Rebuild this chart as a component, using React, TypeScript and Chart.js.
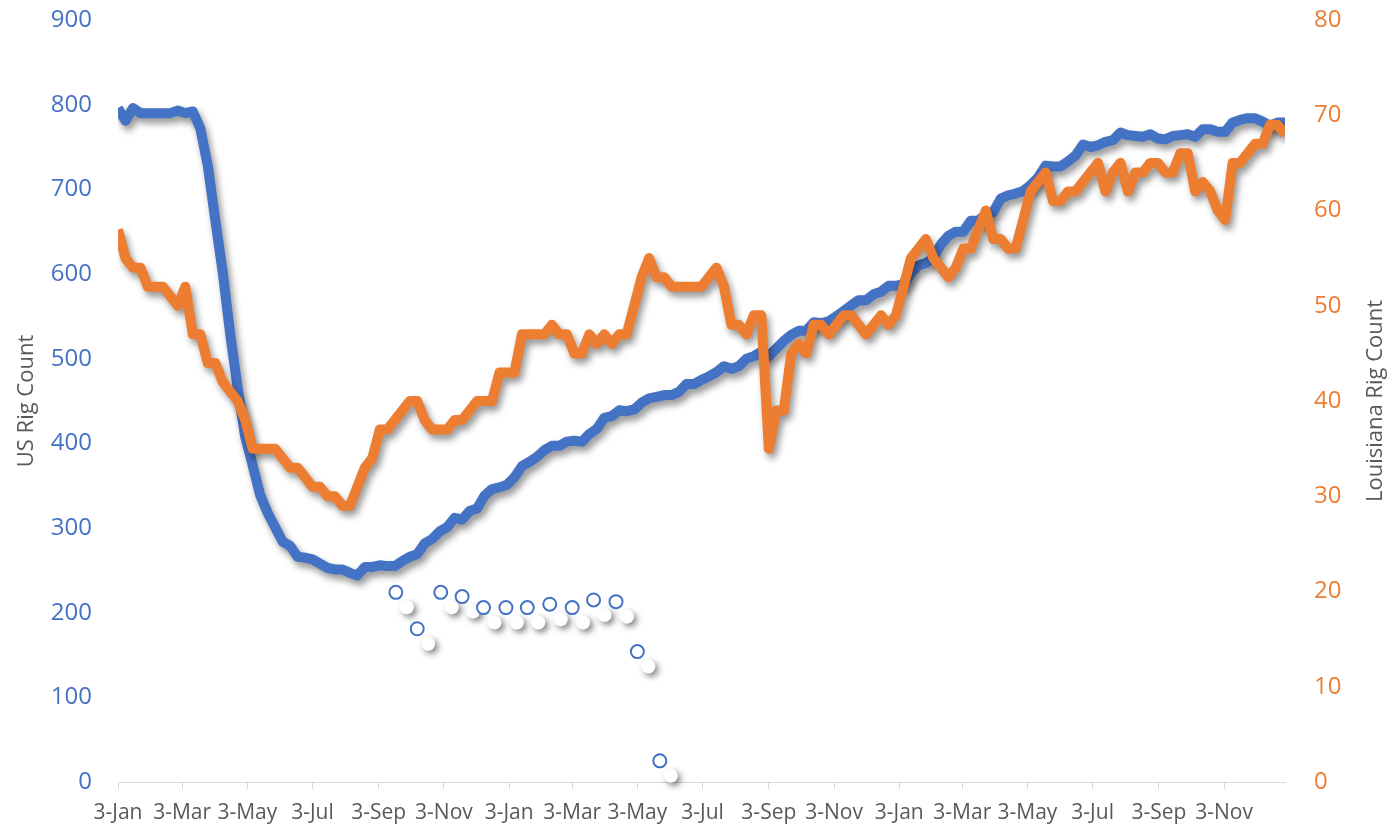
import React, { useEffect, useRef } from "react";
import { Chart, registerables } from "chart.js";

Chart.register(...registerables);

// Weekly series, first week = 2020-01-03
const START_DATE = "2020-01-03";

const usRigCount = [
  // 2020
  796, 781, 796, 790, 790, 790, 790, 790, 793, 790, 792, 772, 728, 664, 602, 529, 465,
  408, 374, 339, 318, 301, 284, 279, 266, 265, 263, 258, 253, 251, 251, 247, 244, 254,
  254, 256, 255, 255, 261, 266, 269, 282, 287, 296, 301, 312, 310, 320, 323, 338, 346, 348,
  // 2021
  351, 360, 373, 378, 384, 392, 397, 397, 402, 403, 402, 411, 417, 430, 432, 439, 438,
  440, 448, 453, 455, 457, 457, 461, 470, 470, 475, 479, 484, 491, 488, 491, 500, 503,
  508, 503, 512, 521, 528, 533, 533, 543, 542, 544, 550, 556, 563, 569, 569, 576, 579, 586, 586,
  // 2022
  588, 601, 610, 613, 619, 635, 645, 650, 650, 663, 663, 670, 673, 689, 693, 695, 698,
  705, 714, 728, 727, 727, 733, 740, 753, 750, 752, 756, 758, 767, 764, 763, 762, 765,
  760, 759, 763, 764, 765, 762, 771, 771, 768, 768, 779, 782, 784, 784, 780, 775, 779, 779,
];

const louisianaRigCount = [
  // 2020
  58, 55, 54, 54, 52, 52, 52, 51, 50, 52, 47, 47, 44, 44, 42, 41, 40, 38, 35, 35, 35,
  35, 34, 33, 33, 32, 31, 31, 30, 30, 29, 29, 31, 33, 34, 37, 37, 38, 39, 40, 40, 38,
  37, 37, 37, 38, 38, 39, 40, 40, 40, 43,
  // 2021
  43, 43, 47, 47, 47, 47, 48, 47, 47, 45, 45, 47, 46, 47, 46, 47, 47, 50, 53, 55, 53,
  53, 52, 52, 52, 52, 52, 53, 54, 52, 48, 48, 47, 49, 49, 35, 39, 39, 45, 46, 45, 48,
  48, 47, 48, 49, 49, 48, 47, 48, 49, 48, 49,
  // 2022
  52, 55, 56, 57, 55, 54, 53, 54, 56, 56, 58, 60, 57, 57, 56, 56, 59, 62, 63, 64, 61,
  61, 62, 62, 63, 64, 65, 62, 64, 65, 62, 64, 64, 65, 65, 64, 64, 66, 66, 62, 63, 62,
  60, 59, 65, 65, 66, 67, 67, 69, 69, 68,
];

const markerDates = [
  "2020-09-19", "2020-10-09", "2020-10-31", "2020-11-20", "2020-12-10", "2020-12-31",
  "2021-01-20", "2021-02-10", "2021-03-03", "2021-03-23", "2021-04-13", "2021-05-03",
  "2021-05-24",
];
const markerValues = [224, 181, 224, 219, 206, 206, 206, 210, 206, 215, 213, 154, 25];

const tickDates = [
  "2020-01-03", "2020-03-03", "2020-05-03", "2020-07-03", "2020-09-03", "2020-11-03",
  "2021-01-03", "2021-03-03", "2021-05-03", "2021-07-03", "2021-09-03", "2021-11-03",
  "2022-01-03", "2022-03-03", "2022-05-03", "2022-07-03", "2022-09-03", "2022-11-03",
];
const tickLabels = [
  "3-Jan", "3-Mar", "3-May", "3-Jul", "3-Sep", "3-Nov",
  "3-Jan", "3-Mar", "3-May", "3-Jul", "3-Sep", "3-Nov",
  "3-Jan", "3-Mar", "3-May", "3-Jul", "3-Sep", "3-Nov",
];

const leftTitle = "US Rig Count";
const rightTitle = "Louisiana Rig Count";

const BLUE = "#4472C4";
const ORANGE = "#ED7D31";
const GRAY_TEXT = "#595959";
const AXIS_GRAY = "#D9D9D9";
const FONT = '"Open Sans", "Noto Sans", sans-serif';

const DAY_MS = 86400000;
const dayOffset = (d: string) =>
  Math.round((Date.parse(d) - Date.parse(START_DATE)) / DAY_MS);

const tickDays = tickDates.map(dayOffset);
const lastDay = (usRigCount.length - 1) * 7;

const shadowPlugin = {
  id: "excelShadows",
  beforeDatasetDraw(chart: any, args: any) {
    const ds = chart.data.datasets[args.index];
    const ctx = chart.ctx;
    if (ds.label === "US" || ds.label === "Louisiana") {
      ctx.save();
      ctx.shadowColor = "rgba(0,0,0,0.42)";
      ctx.shadowBlur = 7;
      ctx.shadowOffsetX = 3;
      ctx.shadowOffsetY = 5;
    } else if (ds.label === "Markers") {
      ctx.save();
      ctx.shadowColor = "rgba(0,0,0,0.5)";
      ctx.shadowBlur = 6;
      ctx.shadowOffsetX = 3;
      ctx.shadowOffsetY = 3;
      ctx.fillStyle = "#ffffff";
      args.meta.data.forEach((pt: any) => {
        ctx.beginPath();
        ctx.arc(pt.x + 11, pt.y + 15, 7, 0, Math.PI * 2);
        ctx.fill();
      });
      ctx.restore();
    }
  },
  afterDatasetDraw(chart: any, args: any) {
    const ds = chart.data.datasets[args.index];
    if (ds.label === "US" || ds.label === "Louisiana") {
      chart.ctx.restore();
    }
  },
};

const titlePlugin = {
  id: "axisTitles",
  afterDraw(chart: any) {
    const ctx = chart.ctx;
    const { top, bottom } = chart.chartArea;
    const cy = (top + bottom) / 2;
    ctx.save();
    ctx.font = `22px ${FONT}`;
    ctx.fillStyle = GRAY_TEXT;
    ctx.textAlign = "center";
    ctx.textBaseline = "middle";
    ctx.save();
    ctx.translate(27, cy);
    ctx.rotate(-Math.PI / 2);
    ctx.fillText(leftTitle, 0, 0);
    ctx.restore();
    ctx.save();
    ctx.translate(chart.width - 23, cy);
    ctx.rotate(-Math.PI / 2);
    ctx.fillText(rightTitle, 0, 0);
    ctx.restore();
    ctx.restore();
  },
};

const fitVertical = (width: number) => (scale: any) => {
  scale.width = width;
  scale.paddingTop = 0;
  scale.paddingBottom = 0;
};

export default function App() {
  const canvasRef = useRef<HTMLCanvasElement | null>(null);

  useEffect(() => {
    const canvas = canvasRef.current;
    if (!canvas) return;

    const usData = usRigCount.map((v, i) => ({ x: i * 7, y: v }));
    const laData = louisianaRigCount.map((v, i) => ({ x: i * 7, y: v }));
    const markerData = markerDates.map((d, i) => ({ x: dayOffset(d), y: markerValues[i] }));

    const chart = new Chart(canvas, {
      type: "line",
      data: {
        datasets: [
          {
            label: "Louisiana",
            data: laData,
            yAxisID: "y1",
            borderColor: ORANGE,
            backgroundColor: ORANGE,
            borderWidth: 10,
            pointRadius: 0,
            tension: 0,
            borderJoinStyle: "round",
            borderCapStyle: "butt",
            order: 0,
          },
          {
            label: "US",
            data: usData,
            yAxisID: "y",
            borderColor: BLUE,
            backgroundColor: BLUE,
            borderWidth: 10,
            pointRadius: 0,
            tension: 0,
            borderJoinStyle: "round",
            borderCapStyle: "butt",
            order: 1,
          },
          {
            label: "Markers",
            data: markerData,
            yAxisID: "y",
            showLine: false,
            pointRadius: 6.5,
            pointBorderWidth: 2,
            pointBackgroundColor: "#ffffff",
            pointBorderColor: BLUE,
            borderColor: BLUE,
            order: 2,
          },
        ],
      } as any,
      options: {
        animation: false,
        responsive: true,
        maintainAspectRatio: false,
        layout: { padding: { top: 20, left: 0, right: 0, bottom: 0 } },
        plugins: {
          legend: { display: false },
          tooltip: { enabled: false },
          title: { display: false },
        },
        scales: {
          x: {
            type: "linear",
            min: 0,
            max: lastDay,
            afterBuildTicks: (scale: any) => {
              scale.ticks = tickDays.map((v) => ({ value: v }));
            },
            afterFit: (scale: any) => {
              scale.height = 43;
              scale.paddingLeft = 0;
              scale.paddingRight = 0;
            },
            grid: {
              display: true,
              drawOnChartArea: false,
              drawTicks: true,
              tickLength: 7,
              color: AXIS_GRAY,
              lineWidth: 1,
            },
            border: { display: true, color: AXIS_GRAY, width: 1 },
            ticks: {
              autoSkip: false,
              maxRotation: 0,
              minRotation: 0,
              padding: 11,
              color: GRAY_TEXT,
              font: { family: FONT, size: 21 },
              callback: (value: any) => {
                const idx = tickDays.indexOf(Number(value));
                return idx >= 0 ? tickLabels[idx] : "";
              },
            },
          },
          y: {
            type: "linear",
            position: "left",
            min: 0,
            max: 900,
            afterFit: fitVertical(118),
            grid: { display: false, drawTicks: false },
            border: { display: false },
            ticks: {
              stepSize: 100,
              padding: 26,
              color: BLUE,
              font: { family: FONT, size: 24 },
            },
          },
          y1: {
            type: "linear",
            position: "right",
            min: 0,
            max: 80,
            afterFit: fitVertical(114),
            grid: { display: false, drawTicks: false },
            border: { display: false },
            ticks: {
              stepSize: 10,
              padding: 29,
              color: ORANGE,
              font: { family: FONT, size: 24 },
            },
          },
        },
      } as any,
      plugins: [shadowPlugin, titlePlugin],
    });

    return () => {
      chart.destroy();
    };
  }, []);

  return (
    <div
      style={{
        position: "fixed",
        left: 0,
        top: 0,
        width: 1399,
        height: 825,
        background: "#ffffff",
      }}
    >
      <canvas ref={canvasRef} />
    </div>
  );
}
